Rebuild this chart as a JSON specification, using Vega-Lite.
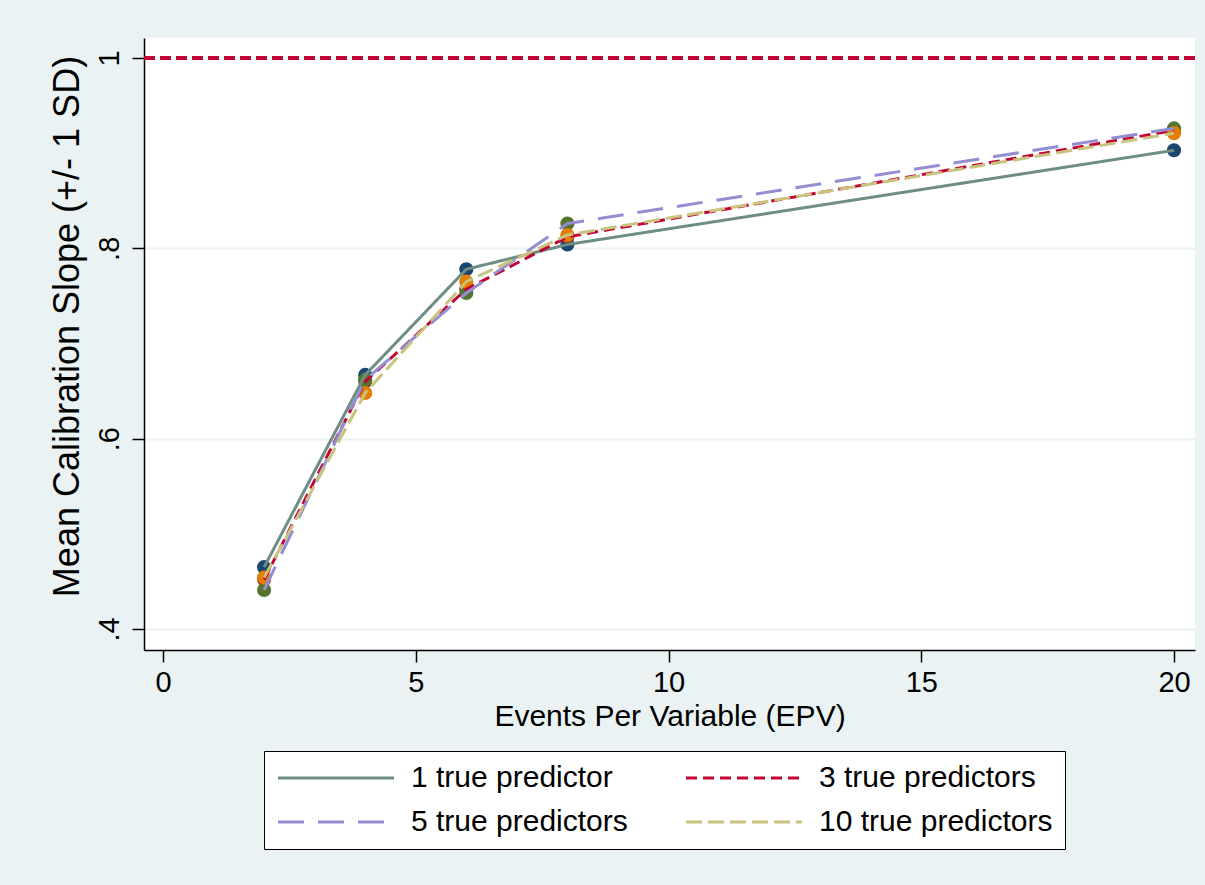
{
  "$schema": "https://vega.github.io/schema/vega-lite/v6.json",
  "width": 1051,
  "height": 612,
  "autosize": {"type": "none"},
  "padding": {"left": 144, "top": 38, "right": 10, "bottom": 235},
  "background": "#EAF2F3",
  "config": {
    "view": {"fill": "white", "stroke": null},
    "font": "Liberation Sans",
    "axis": {
      "domainColor": "#000000",
      "domainWidth": 1.5,
      "tickColor": "#000000",
      "tickWidth": 1.5,
      "tickSize": 12,
      "labelColor": "#000000",
      "titleColor": "#000000",
      "titleFontWeight": "normal",
      "labelFont": "Liberation Sans",
      "titleFont": "Liberation Sans"
    },
    "legend": {
      "orient": "none",
      "legendX": 120,
      "legendY": 713,
      "direction": "horizontal",
      "columns": 2,
      "fillColor": "white",
      "strokeColor": "#000000",
      "padding": 12,
      "symbolType": "M-2.6,0H20.6",
      "symbolSize": 100,
      "symbolStrokeWidth": 3,
      "labelFontSize": 30,
      "labelColor": "#000000",
      "labelFont": "Liberation Sans",
      "labelOffset": 105,
      "labelLimit": 400,
      "columnPadding": 52,
      "rowPadding": 14
    }
  },
  "data": {
    "values": [
      {"series": "1 true predictor", "epv": 2, "slope": 0.465},
      {"series": "3 true predictors", "epv": 2, "slope": 0.452},
      {"series": "5 true predictors", "epv": 2, "slope": 0.441},
      {"series": "10 true predictors", "epv": 2, "slope": 0.454},
      {"series": "1 true predictor", "epv": 4, "slope": 0.667},
      {"series": "3 true predictors", "epv": 4, "slope": 0.66},
      {"series": "5 true predictors", "epv": 4, "slope": 0.662},
      {"series": "10 true predictors", "epv": 4, "slope": 0.648},
      {"series": "1 true predictor", "epv": 6, "slope": 0.778},
      {"series": "3 true predictors", "epv": 6, "slope": 0.757},
      {"series": "5 true predictors", "epv": 6, "slope": 0.753},
      {"series": "10 true predictors", "epv": 6, "slope": 0.765},
      {"series": "1 true predictor", "epv": 8, "slope": 0.804},
      {"series": "3 true predictors", "epv": 8, "slope": 0.812},
      {"series": "5 true predictors", "epv": 8, "slope": 0.826},
      {"series": "10 true predictors", "epv": 8, "slope": 0.814},
      {"series": "1 true predictor", "epv": 20, "slope": 0.903},
      {"series": "3 true predictors", "epv": 20, "slope": 0.924},
      {"series": "5 true predictors", "epv": 20, "slope": 0.926},
      {"series": "10 true predictors", "epv": 20, "slope": 0.921}
    ]
  },
  "layer": [
    {
      "mark": {"type": "rule", "color": "#C10534", "strokeWidth": 2.5, "strokeDash": [11, 5]},
      "encoding": {
        "y": {
          "datum": 1,
          "type": "quantitative",
          "scale": {"domain": [0.37793, 1.021], "nice": false, "zero": false},
          "axis": {
            "values": [0.4, 0.6, 0.8, 1],
            "labelExpr": "datum.value == 1 ? '1' : replace(format(datum.value, '.1f'), '0.', '.')",
            "grid": true,
            "gridColor": "#EAF2F3",
            "gridWidth": 2,
            "labelAngle": 270,
            "labelAlign": "center",
            "labelBaseline": "alphabetic",
            "labelPadding": 14,
            "labelFontSize": 29,
            "title": "Mean Calibration Slope (+/- 1 SD)",
            "titleFontSize": 36,
            "titleAngle": 270,
            "titleBaseline": "alphabetic",
            "titleAlign": "center",
            "titleX": -66,
            "titleY": 288
          }
        }
      }
    },
    {
      "mark": {"type": "point", "filled": true, "opacity": 1, "size": 200},
      "encoding": {
        "x": {
          "field": "epv",
          "type": "quantitative",
          "scale": {"domain": [-0.376, 20.415], "nice": false, "zero": false},
          "axis": {
            "values": [0, 5, 10, 15, 20],
            "grid": false,
            "title": "Events Per Variable (EPV)",
            "labelFontSize": 29,
            "labelPadding": 6,
            "titleFontSize": 30,
            "titleBaseline": "alphabetic",
            "titleY": 75
          }
        },
        "y": {"field": "slope", "type": "quantitative"},
        "fill": {
          "field": "series",
          "type": "nominal",
          "title": null,
          "scale": {
            "domain": ["1 true predictor", "3 true predictors", "5 true predictors", "10 true predictors"],
            "range": ["#1A476F", "#90353B", "#55752F", "#E37E00"]
          }
        }
      }
    },
    {
      "mark": {"type": "line", "strokeWidth": 3},
      "encoding": {
        "x": {"field": "epv", "type": "quantitative"},
        "y": {"field": "slope", "type": "quantitative"},
        "stroke": {
          "field": "series",
          "type": "nominal",
          "title": null,
          "scale": {
            "domain": ["1 true predictor", "3 true predictors", "5 true predictors", "10 true predictors"],
            "range": ["#6E8E84", "#C10534", "#938DD2", "#CAC27E"]
          }
        },
        "strokeDash": {
          "field": "series",
          "type": "nominal",
          "title": null,
          "scale": {
            "domain": ["1 true predictor", "3 true predictors", "5 true predictors", "10 true predictors"],
            "range": [[1, 0], [11, 6], [26, 14], [16, 6]]
          }
        }
      }
    }
  ]
}
